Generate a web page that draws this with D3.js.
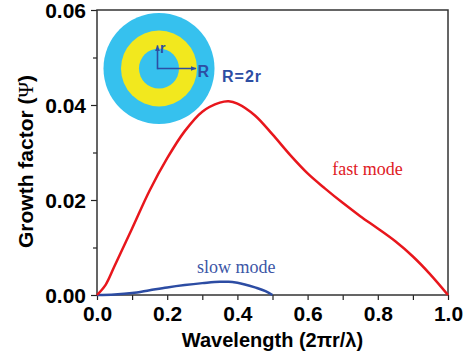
<!DOCTYPE html>
<html>
<head>
<meta charset="utf-8">
<script src="https://cdn.jsdelivr.net/npm/d3@7"></script>
<style>
  body { margin: 0; background: #fff; }
  .tick text { font-family: "Liberation Sans", Arial, sans-serif; font-weight: bold; }
</style>
</head>
<body>
<div id="chart"></div>
<script>
// wavelength values (2πr/λ)
var fastX = [0, 0.025, 0.05, 0.1, 0.15, 0.2, 0.25, 0.3, 0.35, 0.375, 0.4, 0.45, 0.5, 0.55, 0.6, 0.65, 0.7, 0.75, 0.8, 0.85, 0.9, 0.95, 1.0];
var fastY = [0, 0.0022, 0.0061, 0.0140, 0.0220, 0.0288, 0.0345, 0.0386, 0.0405, 0.0408, 0.0403, 0.0378, 0.0338, 0.0295, 0.0256, 0.0224, 0.0194, 0.0166, 0.0140, 0.0113, 0.0081, 0.0043, 0];
var slowX = [0, 0.05, 0.1, 0.15, 0.2, 0.25, 0.3, 0.35, 0.375, 0.4, 0.45, 0.48, 0.5];
var slowY = [0, 0.0001, 0.0004, 0.0010, 0.0016, 0.0021, 0.0025, 0.0028, 0.0028, 0.0026, 0.0016, 0.0008, 0];
var xTicks = [0, 0.2, 0.4, 0.6, 0.8, 1.0];
var yTicks = [0, 0.02, 0.04, 0.06];
var xMinor = [0.1, 0.3, 0.5, 0.7, 0.9];
var yMinor = [0.01, 0.03, 0.05];

var margin = { top: 10, right: 22, bottom: 65, left: 97 },
    width = 470 - margin.left - margin.right,
    height = 360 - margin.top - margin.bottom;

var svg = d3.select("#chart").append("svg")
    .attr("width", 470).attr("height", 360)
  .append("g")
    .attr("transform", "translate(" + margin.left + "," + margin.top + ")");

var xScale = d3.scaleLinear().domain([0, 1]).range([0, width]);
var yScale = d3.scaleLinear().domain([0, 0.06]).range([height, 0]);

//minor ticks
svg.append("g").attr("transform", "translate(0," + height + ")")
    .call(d3.axisBottom(xScale).tickValues(xMinor).tickSize(5).tickFormat(""))
    .call(function (g) { g.select(".domain").remove(); });
svg.append("g")
    .call(d3.axisLeft(yScale).tickValues(yMinor).tickSize(4).tickFormat(""))
    .call(function (g) { g.select(".domain").remove(); });

//major axes
var xNode = svg.append("g").attr("transform", "translate(0," + height + ")")
    .call(d3.axisBottom(xScale).tickValues(xTicks).tickSize(5).tickPadding(6).tickFormat(d3.format(".1f")));
xNode.select(".domain").remove();
xNode.selectAll("text").style("font-size", "21px").attr("fill", "#000");

var yNode = svg.append("g")
    .call(d3.axisLeft(yScale).tickValues(yTicks).tickSize(6).tickPadding(5).tickFormat(d3.format(".2f")));
yNode.select(".domain").remove();
yNode.selectAll("text").style("font-size", "21px").attr("fill", "#000").attr("dy", "0.36em");
svg.selectAll(".tick line").attr("stroke", "#222").attr("stroke-width", 1.2);

//frame
svg.append("rect").attr("width", width).attr("height", height)
    .attr("fill", "none").attr("stroke", "#333").attr("stroke-width", 1.5);

//curves
var slowLine = d3.line().curve(d3.curveMonotoneX)
    .x(function (d) { return xScale(d[0]); })
    .y(function (d) { return yScale(d[1]); });
var fastLine = d3.line().curve(d3.curveCatmullRom.alpha(0.5))
    .x(function (d) { return xScale(d[0]); })
    .y(function (d) { return yScale(d[1]); });

svg.append("path")
    .attr("d", slowLine(d3.zip(slowX, slowY)))
    .attr("fill", "none").attr("stroke", "#2c4ca3").attr("stroke-width", 2.5);
svg.append("path")
    .attr("d", fastLine(d3.zip(fastX, fastY)))
    .attr("fill", "none").attr("stroke", "#e8161c").attr("stroke-width", 2.5);

svg.append("text").attr("x", xScale(0.67)).attr("y", yScale(0.0253))
    .attr("font-family", "Liberation Serif, Times New Roman, serif").attr("font-size", 18)
    .attr("fill", "#e0201f").text("fast mode");
svg.append("text").attr("x", xScale(0.285)).attr("y", yScale(0.0047))
    .attr("font-family", "Liberation Serif, Times New Roman, serif").attr("font-size", 18)
    .attr("fill", "#3c56a6").text("slow mode");

//axis titles
svg.append("text")
    .attr("x", width / 2).attr("y", height + 52)
    .attr("text-anchor", "middle")
    .attr("font-family", "Liberation Sans, Arial, sans-serif").attr("font-weight", "bold").attr("font-size", 20)
    .text("Wavelength (2πr/λ)");
var yTitle = svg.append("text")
    .attr("transform", "translate(" + (-64) + "," + (height / 2 + 9) + ") rotate(-90)")
    .attr("text-anchor", "middle")
    .attr("font-family", "Liberation Sans, Arial, sans-serif").attr("font-weight", "bold").attr("font-size", 21);
yTitle.append("tspan").text("Growth factor (");
yTitle.append("tspan").attr("font-family", "Liberation Serif, Times New Roman, serif").attr("font-weight", "normal").text("Ψ");
yTitle.append("tspan").text(")");

//inset: concentric rings
var ringR = [55.5, 38, 20];
var ringColor = ["#36c1ee", "#f2e81e", "#36c1ee"];
var inset = svg.append("g").attr("transform", "translate(62,58.5)");
inset.selectAll("circle").data(ringR).enter().append("circle")
    .attr("r", function (d) { return d; })
    .attr("fill", function (d, i) { return ringColor[i]; });

var defs = svg.append("defs");
defs.append("marker").attr("id", "arr").attr("viewBox", "0 0 10 10")
    .attr("refX", 9).attr("refY", 5).attr("markerWidth", 6).attr("markerHeight", 6)
    .attr("orient", "auto-start-reverse").attr("markerUnits", "userSpaceOnUse")
  .append("path").attr("d", "M0,1 L10,5 L0,9 Z").attr("fill", "#2d4ea3");

inset.append("line").attr("x1", -1.5).attr("y1", 0).attr("x2", 37).attr("y2", 0)
    .attr("stroke", "#2d4ea3").attr("stroke-width", 1.6).attr("marker-end", "url(#arr)");
inset.append("line").attr("x1", -1.5).attr("y1", 0.8).attr("x2", -1.5).attr("y2", -23)
    .attr("stroke", "#2d4ea3").attr("stroke-width", 1.6).attr("marker-end", "url(#arr)");
inset.append("text").attr("x", 1).attr("y", -16)
    .attr("font-family", "Liberation Sans Narrow, Liberation Sans, Arial, sans-serif").attr("font-weight", "bold").attr("font-size", 14)
    .attr("fill", "#2d4ea3").text("r");
inset.append("text").attr("x", 38.5).attr("y", 8.5)
    .attr("font-family", "Liberation Sans Narrow, Liberation Sans, Arial, sans-serif").attr("font-weight", "bold").attr("font-size", 16)
    .attr("fill", "#2d4ea3").text("R");
inset.append("text").attr("x", 63).attr("y", 13.5)
    .attr("font-family", "Liberation Sans Narrow, Liberation Sans, Arial, sans-serif").attr("font-weight", "bold").attr("font-size", 16)
    .attr("fill", "#2d4ea3").attr("letter-spacing", 1).text("R=2r");
</script>
</body>
</html>
